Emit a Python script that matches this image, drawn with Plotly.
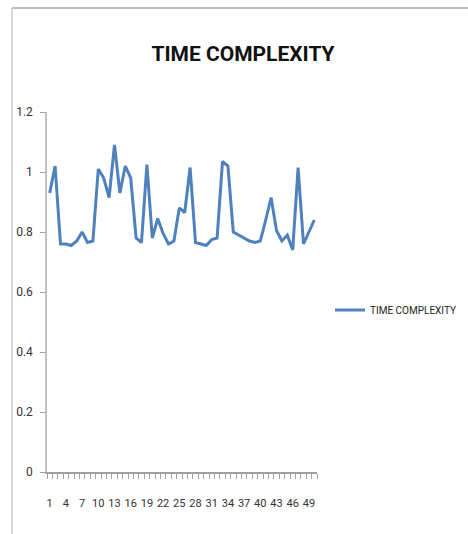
import plotly.graph_objects as go

categories = list(range(1, 51))
time_complexity = [
    0.93, 1.02, 0.76, 0.76, 0.755, 0.77, 0.80, 0.765, 0.77, 1.01,
    0.98, 0.915, 1.09, 0.93, 1.02, 0.98, 0.78, 0.765, 1.025, 0.78,
    0.845, 0.795, 0.76, 0.77, 0.88, 0.865, 1.015, 0.765, 0.76, 0.755,
    0.775, 0.78, 1.035, 1.02, 0.80, 0.79, 0.78, 0.77, 0.765, 0.77,
    0.84, 0.915, 0.805, 0.77, 0.79, 0.74, 1.015, 0.76, 0.80, 0.84,
]
x_tick_vals = list(range(1, 51, 3))
x_tick_text = [str(v) for v in x_tick_vals]
series_name = "TIME COMPLEXITY"
title_text = "TIME COMPLEXITY"

FONT = "Roboto, Liberation Sans Narrow, DejaVu Sans Condensed, sans-serif"

L, R, T, B = 47, 151, 112, 62
PW, PH = 468 - L - R, 534 - T - B

fig = go.Figure()
fig.add_trace(go.Scatter(
    x=categories, y=time_complexity, mode="lines", name=series_name,
    line=dict(color="#4F81BD", width=3),
))

fig.update_layout(
    width=468, height=534,
    margin=dict(l=L, r=R, t=T, b=B, autoexpand=False),
    paper_bgcolor="white", plot_bgcolor="white",
    title=dict(text="<b>" + title_text + "</b>", x=243 / 468, xref="container", xanchor="center",
               y=1 - 54 / 534, yref="container", yanchor="middle",
               font=dict(family=FONT, size=21, color="#111111")),
    showlegend=True,
    legend=dict(x=(330 - L) / PW, xanchor="left", y=(472 - 310) / PH, yanchor="middle",
                font=dict(family=FONT, size=10, color="#222222"),
                bgcolor="rgba(0,0,0,0)", itemwidth=30),
    font=dict(family=FONT, size=12, color="#333333"),
    shapes=[
        dict(type="line", xref="paper", yref="paper",
             x0=(12 - L) / PW, x1=(470 - L) / PW,
             y0=(472 - 8) / PH, y1=(472 - 8) / PH,
             line=dict(color="#a8a8a8", width=1.5)),
        dict(type="line", xref="paper", yref="paper",
             x0=(12 - L) / PW, x1=(12 - L) / PW,
             y0=(472 - 536) / PH, y1=(472 - 8) / PH,
             line=dict(color="#c8c8c8", width=1.5)),
    ],
)

fig.update_xaxes(
    range=[0.5, 50.5], tickvals=x_tick_vals, ticktext=x_tick_text,
    ticks="", tickangle=0, showgrid=False, zeroline=False,
    showline=True, linecolor="#a0a0a0", linewidth=1.5,
    ticklabelstandoff=20,
    tickfont=dict(family=FONT, size=11, color="#333333"),
    minor=dict(tick0=0.5, dtick=1, ticks="outside", ticklen=5,
               tickcolor="#a0a0a0", showgrid=False),
)
fig.update_yaxes(
    range=[0, 1.2], dtick=0.2, tick0=0,
    ticks="outside", ticklen=5, tickcolor="#a0a0a0",
    showgrid=False, zeroline=False,
    showline=True, linecolor="#c0c0c0", linewidth=1.5,
    ticklabelstandoff=5,
    tickfont=dict(family=FONT, size=12, color="#333333"),
)

fig.write_html("out.html", config={"displayModeBar": False},
               post_script="document.body.style.margin='0px';")
